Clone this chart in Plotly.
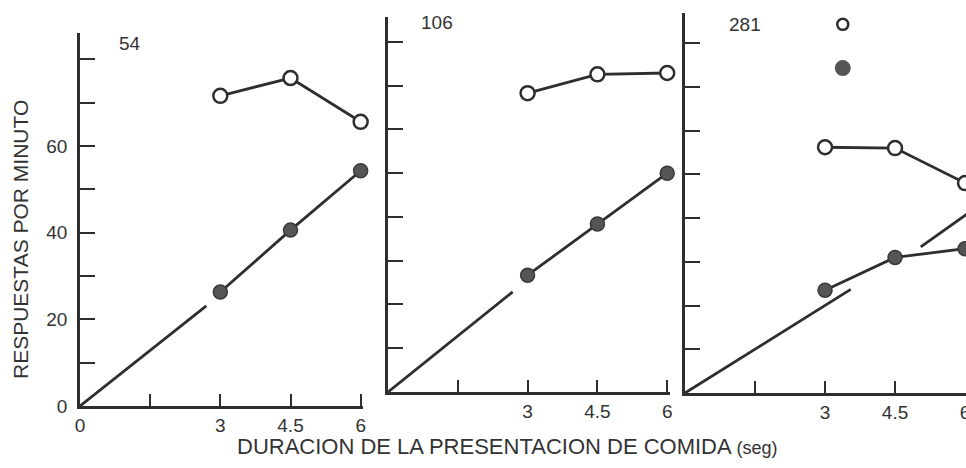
import plotly.graph_objects as go

# ---- data ----
durations = [3, 4.5, 6]
subjects = ["54", "106", "281"]

open_54 = [71.6, 75.7, 65.6]
filled_54 = [26.3, 40.6, 54.3]
open_106 = [68.3, 72.6, 72.9]
filled_106 = [26.7, 38.4, 50.0]
open_281 = [56.2, 56.0, 48.0]
filled_281 = [23.5, 31.0, 33.0]

# broken reference (prediction) lines
ref_x_54 = [0, 2.7]
ref_y_54 = [0, 23.1]
ref_x_106 = [0, 2.68]
ref_y_106 = [0, 22.9]
ref_x_281 = [0, 3.55, None, 5.05, 6.3]
ref_y_281 = [0, 23.7, None, 33.4, 42.9]

legend_x = [3.38, 3.38]
legend_y = [84.3, 74.3]

y_tickvals = [0, 10, 20, 30, 40, 50, 60, 70, 80]
y_ticktext = ["0", "", "20", "", "40", "", "60", "", ""]
x_tickvals_first = [0, 1.5, 3, 4.5, 6]
x_ticktext_first = ["0", "", "3", "4.5", "6"]
x_tickvals = [1.5, 3, 4.5, 6]
x_ticktext = ["", "3", "4.5", "6"]

INK = "#2e2e2e"
FILL = "#555555"
FONT = "Liberation Sans, Arial, sans-serif"
W, H = 966, 468

fig = go.Figure()

panels = [
    (open_54, filled_54, ref_x_54, ref_y_54, "x", "y"),
    (open_106, filled_106, ref_x_106, ref_y_106, "x2", "y2"),
    (open_281, filled_281, ref_x_281, ref_y_281, "x3", "y3"),
]

for op, fi, rx, ry, xa, ya in panels:
    fig.add_trace(go.Scatter(x=rx, y=ry, mode="lines", xaxis=xa, yaxis=ya,
                             line=dict(color=INK, width=2.8), showlegend=False,
                             connectgaps=False))
    fig.add_trace(go.Scatter(x=durations, y=fi, mode="lines+markers", xaxis=xa, yaxis=ya,
                             line=dict(color=INK, width=2.8),
                             marker=dict(size=14, color=FILL, line=dict(color="#3a3a3a", width=1.5)),
                             cliponaxis=False, showlegend=False))
    fig.add_trace(go.Scatter(x=durations, y=op, mode="lines+markers", xaxis=xa, yaxis=ya,
                             line=dict(color=INK, width=2.8),
                             marker=dict(size=14, color="white", line=dict(color=INK, width=2.5)),
                             cliponaxis=False, showlegend=False))

# legend symbols (text cropped in original)
fig.add_trace(go.Scatter(x=legend_x[:1], y=legend_y[:1], mode="markers", xaxis="x3", yaxis="y3",
                         marker=dict(size=11, color="white", line=dict(color=INK, width=2.5)),
                         cliponaxis=False, showlegend=False))
fig.add_trace(go.Scatter(x=legend_x[1:], y=legend_y[1:], mode="markers", xaxis="x3", yaxis="y3",
                         marker=dict(size=16, color=FILL, line=dict(width=0)),
                         cliponaxis=False, showlegend=False))


def px_x(p):
    return p / W


def px_y(p):
    return 1 - p / H


common_x = dict(showgrid=False, zeroline=False, showline=True, linecolor=INK, linewidth=2.5,
                ticks="inside", ticklen=12, tickwidth=2.2, tickcolor=INK, automargin=False,
                tickfont=dict(family=FONT, size=19, color="#333"), ticklabelstandoff=0,
                ticklabeloverflow="allow", fixedrange=True)
common_y = dict(showgrid=False, zeroline=False, showline=True, linecolor=INK, linewidth=2.5,
                ticks="inside", ticklen=15, tickwidth=2.2, tickcolor=INK, automargin=False,
                tickfont=dict(family=FONT, size=19, color="#333"), ticklabelstandoff=6,
                tickvals=y_tickvals, fixedrange=True)

layout = dict(
    width=W, height=H, margin=dict(l=0, r=0, t=0, b=0, autoexpand=False),
    paper_bgcolor="white", plot_bgcolor="white", showlegend=False,
    xaxis=dict(common_x, domain=[px_x(80), px_x(363)], range=[0, 6.05], anchor="y",
               tickvals=x_tickvals_first, ticktext=x_ticktext_first),
    yaxis=dict(common_y, domain=[px_y(406), px_y(33)], range=[0, 86.1], anchor="x",
               ticktext=y_ticktext),
    xaxis2=dict(common_x, domain=[px_x(388), px_x(670)], range=[0, 6.06], anchor="y2",
                tickvals=x_tickvals, ticktext=x_ticktext),
    yaxis2=dict(common_y, domain=[px_y(392), px_y(17)], range=[0, 85.7], anchor="x2",
                ticktext=[""] * len(y_tickvals)),
    xaxis3=dict(common_x, domain=[px_x(685), 1.0], range=[0, 6.02], anchor="y3",
                tickvals=x_tickvals, ticktext=x_ticktext),
    yaxis3=dict(common_y, domain=[px_y(393), px_y(13)], range=[0, 86.9], anchor="x3",
                ticktext=[""] * len(y_tickvals)),
)
fig.update_layout(**layout)

label_pos = [(130, 43), (437, 22), (745, 24)]
for s, (lx, ly) in zip(subjects, label_pos):
    fig.add_annotation(x=px_x(lx), y=px_y(ly), xref="paper", yref="paper", text=s,
                       showarrow=False, xanchor="center", yanchor="middle",
                       font=dict(family=FONT, size=19, color="#333"))

fig.add_annotation(x=px_x(508), y=px_y(446), xref="paper", yref="paper",
                   text="DURACION DE LA PRESENTACION DE COMIDA <span style='font-size:18px'>(seg)</span>",
                   showarrow=False, xanchor="center", yanchor="middle",
                   font=dict(family=FONT, size=22, color="#333"))
fig.add_annotation(x=px_x(21), y=px_y(240), xref="paper", yref="paper",
                   text="RESPUESTAS POR MINUTO", textangle=-90,
                   showarrow=False, xanchor="center", yanchor="middle",
                   font=dict(family=FONT, size=21, color="#333"))

fig.write_html("out.html", config={"displayModeBar": False},
               post_script="document.body.style.margin='0';document.body.style.overflow='hidden';")
